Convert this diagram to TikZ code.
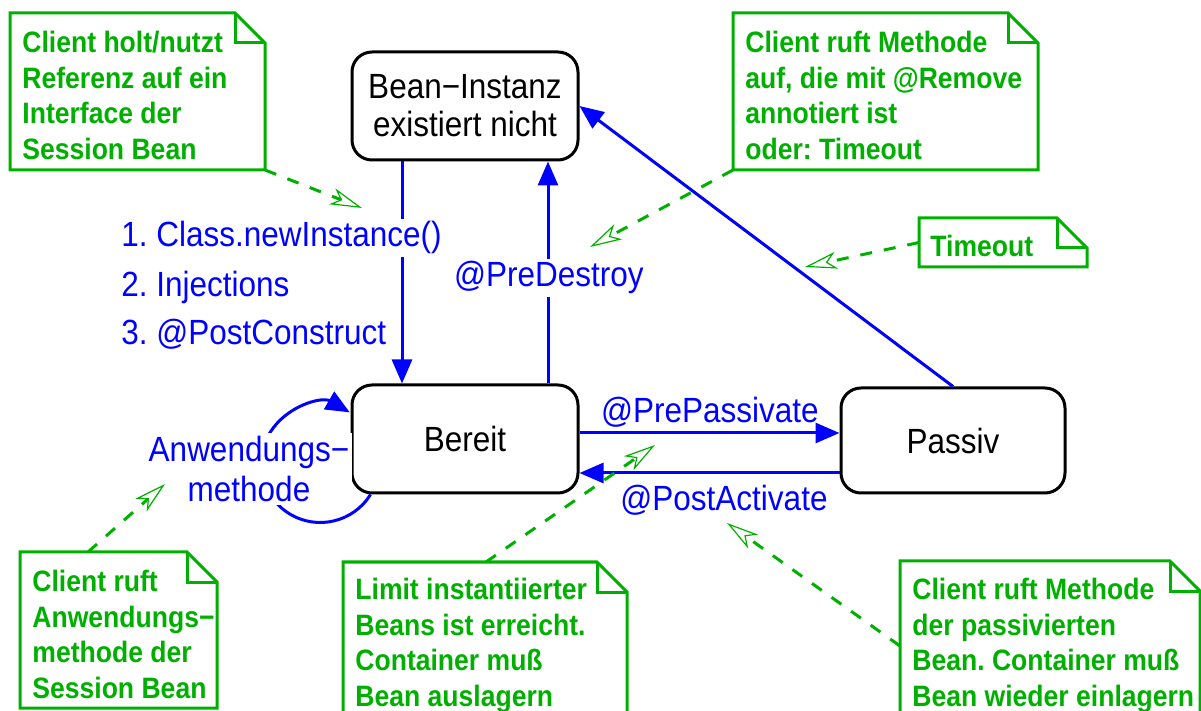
\documentclass[tikz,border=0pt]{standalone}
\usepackage{fontspec}
\setmainfont{Liberation Sans}[FakeStretch=0.9]
\usetikzlibrary{arrows.meta}
\definecolor{ngreen}{RGB}{0,176,0}
\frenchspacing
\newcommand\notedogear[1]{%
  \draw[notebox] (#1.north west) -- ([xshift=-15pt]#1.north east) -- ([yshift=-15pt]#1.north east) -- (#1.south east) -- (#1.south west) -- cycle;
  \draw[notebox] ([xshift=-15pt]#1.north east) -- ([xshift=-15pt,yshift=-15pt]#1.north east) -- ([yshift=-15pt]#1.north east);
}
\begin{document}
\frenchspacing
\begin{tikzpicture}[x=0.5pt,y=-0.5pt,
  state/.style={draw=black, line width=1.5pt, rounded corners=10pt, fill=white, align=center,
    font=\fontsize{17.5}{19}\selectfont, inner sep=0pt},
  bluelbl/.style={text=blue, font=\fontsize{17.5}{20}\selectfont, inner sep=1.5pt},
  trans/.style={draw=blue, line width=1.5pt, -{Triangle[length=12pt,width=10pt]}},
  noteframe/.style={draw=none, inner sep=0pt, outer sep=0pt, anchor=north west},
  notebox/.style={draw=ngreen, line width=1.5pt, line join=miter},
  notetext/.style={text=ngreen, font=\fontsize{14.75}{17.75}\selectfont\bfseries, align=left, anchor=north west, inner sep=0pt},
  notelink/.style={draw=ngreen, line width=1.5pt, dash pattern=on 6pt off 6pt,
    -{Stealth[open, length=16pt, width=8.5pt, inset=4.5pt, line width'=0.6pt]}}
]
\useasboundingbox (0,0) rectangle (1201,711);
\clip (0,0) rectangle (1201,711);

% states
\node[state, minimum width=113pt, minimum height=54pt] (bean) at (465,106) {Bean−Instanz\\existiert nicht};
\node[state, minimum width=113pt, minimum height=54pt] (bereit) at (465,439) {Bereit};
\node[state, minimum width=112pt, minimum height=52.5pt] (passiv) at (953,440.5) {Passiv};

\coordinate (xa) at (402,0);
\coordinate (xb) at (548,0);
\coordinate (ya) at (0,433);
\coordinate (yb) at (0,473);

% transitions
\draw[trans] (bean.south -| xa) -- (bereit.north -| xa);
\draw[trans] (bereit.north -| xb) -- (bean.south -| xb);
\draw[trans] (passiv.north) -- (bean.east);
\draw[trans] (bereit.east |- ya) -- (passiv.west |- ya);
\draw[trans] (passiv.west |- yb) -- (bereit.east |- yb);
\draw[trans] ([xshift=10pt]bereit.south west) arc[start angle=-31.7, end angle=-300, radius=29.5pt];

% blue labels
\node[bluelbl, fill=white, anchor=base west] (l1) at (118,247) {1. Class.newInstance()};
\node[bluelbl, anchor=base west] (l2) at (118,297) {2. Injections};
\node[bluelbl, anchor=base west] (l3) at (118,345) {3. @PostConstruct};
\node[bluelbl, fill=white, anchor=base] (lpd) at (549,287) {@PreDestroy};
\node[bluelbl, anchor=base] (lpp) at (710,423) {@PrePassivate};
\node[bluelbl, anchor=base] (lpa) at (724,510) {@PostActivate};
\node[bluelbl, fill=white, align=center, font=\fontsize{17.5}{20}\selectfont] (law) at (249,469) {Anwendungs−\\methode};

% notes
\node[noteframe, minimum width=127.5pt, minimum height=78.5pt] (n1) at (10,13) {};
\node[noteframe, minimum width=152.5pt, minimum height=78.5pt] (n2) at (733,13) {};
\node[noteframe, minimum width=84pt, minimum height=24.5pt] (n3) at (919,218) {};
\node[noteframe, minimum width=98.5pt, minimum height=78pt] (n4) at (20,552) {};
\node[noteframe, minimum width=142pt, minimum height=85pt] (n5) at (343,562) {};
\node[noteframe, minimum width=150pt, minimum height=85pt] (n6) at (900,561) {};
\notedogear{n1}
\notedogear{n2}
\notedogear{n3}
\notedogear{n4}
\notedogear{n5}
\notedogear{n6}

\node[notetext] (n1t) at ([shift={(12,18)}]n1.north west) {Client holt/nutzt\\Referenz auf ein\\Interface der\\Session Bean};
\node[notetext] (n2t) at ([shift={(12,18)}]n2.north west) {Client ruft Methode\\auf, die mit @Remove\\annotiert ist\\oder: Timeout};
\node[notetext] (n3t) at ([shift={(11,17)}]n3.north west) {Timeout};
\node[notetext] (n4t) at ([shift={(12,18)}]n4.north west) {Client ruft\\Anwendungs−\\methode der\\Session Bean};
\node[notetext] (n5t) at ([shift={(12,16)}]n5.north west) {Limit instantiierter\\Beans ist erreicht.\\Container muß\\Bean auslagern};
\node[notetext] (n6t) at ([shift={(12,17)}]n6.north west) {Client ruft Methode\\der passivierten\\Bean. Container muß\\Bean wieder einlagern};

% note links
\coordinate (t1) at (362,208);
\coordinate (t2) at (590,247);
\coordinate (t3) at (805,267);
\coordinate (t4) at (165,484);
\coordinate (t5) at (655,445);
\coordinate (t6) at (727,523);
\draw[notelink] (n1.south east) -- (t1);
\draw[notelink] (n2.south west) -- (t2);
\draw[notelink] (n3.west) -- (t3);
\draw[notelink] ([xshift=34pt]n4.north west) -- (t4);
\draw[notelink] ([xshift=71.5pt]n5.north west) -- (t5);
\draw[notelink] (n6.west) -- (t6);
\end{tikzpicture}
\end{document}
